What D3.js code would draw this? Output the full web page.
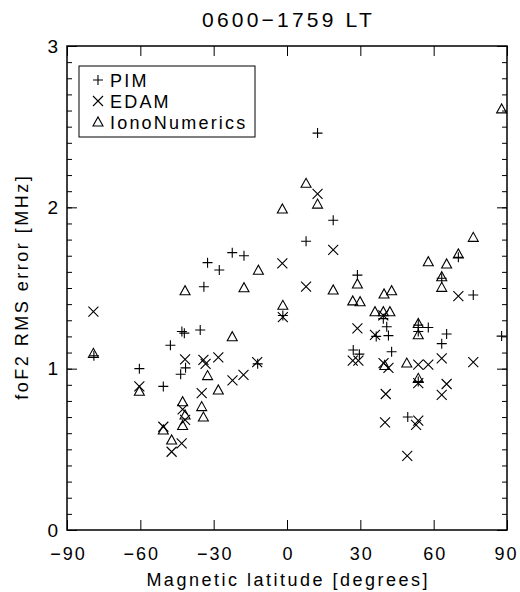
<!DOCTYPE html>
<html>
<head>
<meta charset="utf-8">
<script src="https://cdn.jsdelivr.net/npm/d3@7"></script>
<style>
  body { margin: 0; background: #fff; }
  text { font-family: "Liberation Sans", "DejaVu Sans", sans-serif; fill: #000; }
</style>
</head>
<body>
<div id="root"></div>
<script>
const pimData = [
  [-79, 1.08], [-60.4, 1.0], [-50.6, 0.89], [-47.7, 1.145], [-43, 1.23], [-42, 1.22],
  [-35.5, 1.24], [-41.5, 1.005], [-43.5, 0.965], [-32.5, 1.657], [-34, 1.508],
  [-27.7, 1.612], [-22.4, 1.719], [-17.6, 1.70], [-12, 1.03], [-1.7, 1.33],
  [7.8, 1.79], [12.5, 2.46], [18.9, 1.92], [28.8, 1.58], [27.1, 1.116], [29.6, 1.09],
  [39.4, 1.31], [40.8, 1.26], [36.5, 1.20], [41.5, 1.205], [42.8, 1.105], [49.4, 0.70],
  [53.7, 1.27], [53.7, 1.23], [57.8, 1.255], [53.7, 0.92], [63.3, 1.56], [63.3, 1.155],
  [65.3, 1.215], [70.1, 1.69], [76.2, 1.457], [87.8, 1.202]
]
const edamData = [
  [-79.2, 1.353], [-60.4, 0.89], [-50.6, 0.64], [-47.2, 0.485], [-43.1, 0.537],
  [-41.7, 1.058], [-42.7, 0.748], [-41.7, 0.682], [-34.2, 1.055], [-33.3, 1.03],
  [-34.9, 0.848], [-28.1, 1.07], [-22.3, 0.928], [-17.8, 0.961], [-12.2, 1.04],
  [-1.9, 1.653], [-1.7, 1.32], [7.8, 1.508], [12.5, 2.083], [18.9, 1.736], [28.8, 1.25],
  [26.9, 1.05], [29.2, 1.05], [36, 1.21], [39.4, 1.33], [39.5, 1.035], [41.5, 1.005],
  [40.4, 0.843], [40.1, 0.667], [53.7, 1.025], [57.8, 1.025], [63.3, 1.064], [53.7, 0.91],
  [65.3, 0.905], [63.3, 0.837], [53.7, 0.678], [52.8, 0.651], [49.2, 0.459], [70.1, 1.45],
  [76.2, 1.04]
]
const ionoData = [
  [-79.2, 1.095], [-60.4, 0.86], [-50.6, 0.62], [-47.2, 0.558], [-41.7, 1.483],
  [-42.7, 0.795], [-41.7, 0.713], [-42.7, 0.648], [-32.5, 0.957], [-34.9, 0.765],
  [-34.2, 0.70], [-28.1, 0.868], [-22.4, 1.198], [-17.6, 1.502], [-11.7, 1.61],
  [-1.9, 1.99], [-1.7, 1.393], [7.8, 2.149], [12.5, 2.02], [18.9, 1.488], [28.8, 1.525],
  [26.9, 1.42], [29.9, 1.415], [36, 1.353], [39.4, 1.353], [42.1, 1.353], [39.7, 1.463],
  [42.8, 1.483], [40, 1.02], [49, 1.035], [53.7, 1.28], [53.7, 1.21], [53.7, 0.94],
  [57.8, 1.663], [65.3, 1.649], [63.3, 1.57], [63.3, 1.504], [70.1, 1.711], [76.2, 1.814],
  [87.8, 2.61]
]
const xTicks = [-90, -60, -30, 0, 30, 60, 90]
const yTicks = [0, 1, 2, 3]
const seriesNames = ['PIM', 'EDAM', 'IonoNumerics']

const width = 520
const height = 592
const margin = { top: 46, right: 13, bottom: 62, left: 67 }

const svg = d3.select('#root').append('svg')
  .attr('width', width)
  .attr('height', height)

const x = d3.scaleLinear().domain([-90, 90]).range([margin.left, width - margin.right])
const y = d3.scaleLinear().domain([0, 3]).range([height - margin.bottom, margin.top])

// frame
svg.append('rect')
  .attr('x', x(-90)).attr('y', y(3))
  .attr('width', x(90) - x(-90)).attr('height', y(0) - y(3))
  .attr('fill', 'none').attr('stroke', '#000').attr('stroke-width', 1.5)

// axes, ticks pointing inward
const fmt = d3.format('d')

svg.append('g')
  .attr('transform', `translate(0,${y(0)})`)
  .call(d3.axisBottom(x).tickValues(xTicks).tickSizeInner(-10).tickSizeOuter(0).tickPadding(17).tickFormat(fmt))
  .call(g => g.select('.domain').remove())
  .call(g => g.selectAll('text')
    .attr('font-size', 18)
    .attr('font-family', 'Liberation Sans')
    .attr('letter-spacing', 2)
    .attr('dx', d => d === 90 ? -1 : 1))
svg.append('g')
  .attr('transform', `translate(0,${y(3)})`)
  .call(d3.axisTop(x).tickValues(xTicks).tickSizeInner(-10).tickSizeOuter(0).tickFormat(''))
  .call(g => g.select('.domain').remove())

const minor = d3.range(0, 3.001, 0.1).map(v => +v.toFixed(1))
svg.append('g')
  .attr('transform', `translate(${x(-90)},0)`)
  .call(d3.axisLeft(y).tickValues(minor).tickSizeInner(-5).tickSizeOuter(0).tickFormat(''))
  .call(g => g.select('.domain').remove())
svg.append('g')
  .attr('transform', `translate(${x(90)},0)`)
  .call(d3.axisRight(y).tickValues(minor).tickSizeInner(-5).tickSizeOuter(0).tickFormat(''))
  .call(g => g.select('.domain').remove())
svg.append('g')
  .attr('transform', `translate(${x(-90)},0)`)
  .call(d3.axisLeft(y).tickValues(yTicks).tickSizeInner(-10).tickSizeOuter(0).tickPadding(9).tickFormat(fmt))
  .call(g => g.select('.domain').remove())
  .call(g => g.selectAll('text').attr('font-size', 19).attr('font-family', 'Liberation Sans'))
svg.append('g')
  .attr('transform', `translate(${x(90)},0)`)
  .call(d3.axisRight(y).tickValues(yTicks).tickSizeInner(-10).tickSizeOuter(0).tickFormat(''))
  .call(g => g.select('.domain').remove())

// symbols
const s = 5
const plusPath = `M${-s},0H${s}M0,${-s}V${s}`
const crossPath = `M${-s},${-s}L${s},${s}M${-s},${s}L${s},${-s}`
const triPath = `M${-s},${s * 0.8}L${s},${s * 0.8}L0,${-s * 1.0}Z`
const symbolPaths = [plusPath, crossPath, triPath]

const series = [pimData, edamData, ionoData]
series.forEach((data, i) => {
  svg.append('g').selectAll('path')
    .data(data)
    .join('path')
    .attr('transform', d => `translate(${x(d[0])},${y(d[1])})`)
    .attr('d', symbolPaths[i])
    .attr('fill', 'none')
    .attr('stroke', '#000')
    .attr('stroke-width', 1.1)
})

// legend
const legend = svg.append('g')
legend.append('rect')
  .attr('x', 79).attr('y', 66).attr('width', 176).attr('height', 71)
  .attr('fill', '#fff').attr('stroke', '#000').attr('stroke-width', 1)
seriesNames.forEach((name, i) => {
  const cy = 80 + i * 21
  legend.append('path')
    .attr('transform', `translate(98,${cy})`)
    .attr('d', symbolPaths[i])
    .attr('fill', 'none').attr('stroke', '#000').attr('stroke-width', 1.1)
  legend.append('text')
    .attr('x', 110).attr('y', cy + 7)
    .attr('font-size', 18)
    .attr('letter-spacing', 2.2)
    .text(name)
})

// titles
const cx = (x(-90) + x(90)) / 2
svg.append('text')
  .attr('x', cx + 1.5).attr('y', 27)
  .attr('text-anchor', 'middle').attr('font-size', 21)
  .attr('letter-spacing', 3.2)
  .text('0600\u22121759 LT')
svg.append('text')
  .attr('x', cx + 1.2).attr('y', 586)
  .attr('text-anchor', 'middle').attr('font-size', 18)
  .attr('letter-spacing', 2.5)
  .text('Magnetic latitude [degrees]')
svg.append('text')
  .attr('transform', `translate(28,${(y(0) + y(3)) / 2 - 1.2}) rotate(-90)`)
  .attr('text-anchor', 'middle').attr('font-size', 18)
  .attr('letter-spacing', 2.5)
  .text('foF2 RMS error [MHz]')
</script>
</body>
</html>
